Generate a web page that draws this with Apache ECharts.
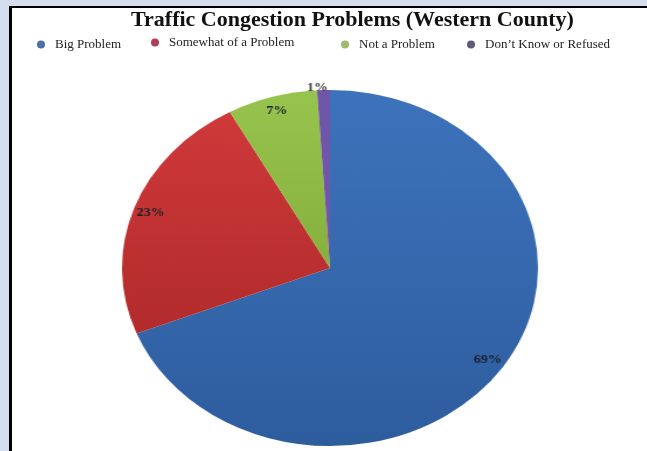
<!DOCTYPE html>
<html>
<head>
<meta charset="utf-8">
<script src="https://cdn.jsdelivr.net/npm/echarts@6/dist/echarts.min.js"></script>
<style>
  html, body { margin: 0; padding: 0; }
  body { width: 647px; height: 451px; background: #d4deef; position: relative; overflow: hidden; }
  .panel { position: absolute; left: 9px; top: 6px; right: 0; bottom: 0; background: #fff;
           border-left: 3px solid #000; border-top: 2px solid #000; }
  #top { position: absolute; left: 0; top: 0; width: 647px; height: 451px; }
  /* pie drawn round, then stretched to the ellipse of the reference */
  #pie { position: absolute; left: 130px; top: 68px; width: 400px; height: 400px;
         transform: scaleX(1.1685); transform-origin: 200px 200px; }
</style>
</head>
<body>
<div class="panel"></div>
<div id="top"></div>
<div id="pie"></div>
<script>
// data
const categories = ['Big Problem', 'Somewhat of a Problem', 'Not a Problem', 'Don\u2019t Know or Refused'];
const values = [69, 23, 7, 1];
const sliceColors = [
  new echarts.graphic.LinearGradient(0, 0, 0, 1, [{offset: 0, color: '#3d73bc'}, {offset: 1, color: '#2e5d9e'}]),
  new echarts.graphic.LinearGradient(0, 0, 0, 1, [{offset: 0, color: '#cf393a'}, {offset: 1, color: '#b22b2c'}]),
  new echarts.graphic.LinearGradient(0, 0, 0, 1, [{offset: 0, color: '#97c44e'}, {offset: 1, color: '#86b03c'}]),
  '#7056a8'
];
const legendColors = ['#4d6fa8', '#b03c55', '#9cba6a', '#5d5a7c'];

const serif = '"Liberation Serif", "DejaVu Serif", serif';

const pieData = categories.map((name, i) => ({
  name: name,
  value: values[i],
  itemStyle: { color: sliceColors[i] }
}));

// top part: title + legends
const topChart = echarts.init(document.getElementById('top'), null, { renderer: 'canvas' });
const legendLeft = [37, 151, 341, 467];
const legendTop = [38, 36, 38, 38];
topChart.setOption({
  animation: false,
  title: {
    text: 'Traffic Congestion Problems (Western County)',
    left: 131,
    top: 9,
    padding: 0,
    textStyle: { fontFamily: serif, fontWeight: 'bold', fontSize: 22, color: '#111' }
  },
  legend: categories.map((name, i) => ({
    data: [{ name: name, itemStyle: { color: legendColors[i] } }],
    left: legendLeft[i],
    top: legendTop[i],
    padding: 0,
    icon: 'circle',
    itemWidth: 8,
    itemHeight: 8,
    selectedMode: false,
    textStyle: { fontFamily: serif, fontSize: 13, color: '#222', padding: [0, 0, 0, 5] }
  })),
  series: [{
    // same data, not drawn here; only feeds the legends
    type: 'pie',
    radius: [0, 0],
    silent: true,
    label: { show: false },
    data: pieData
  }]
});

// pie
const pieChart = echarts.init(document.getElementById('pie'));
const R = 178;
pieChart.setOption({
  animation: false,
  series: [
    {
      type: 'pie',
      center: [200, 200],
      radius: [0, R],
      startAngle: 90,
      clockwise: true,
      silent: true,
      label: { show: false },
      labelLine: { show: false },
      data: pieData
    },
    {
      // ring only to put the labels near the rim
      type: 'pie',
      center: [200, 200],
      radius: [R * 0.8, R],
      startAngle: 90,
      clockwise: true,
      silent: true,
      itemStyle: { color: 'rgba(0,0,0,0)' },
      label: {
        show: true,
        position: 'inside',
        formatter: '{c}%',
        fontFamily: serif,
        fontWeight: 'bold',
        fontSize: 12,
        color: '#1a2030'
      },
      labelLine: { show: false },
      labelLayout: function (params) {
        return params.dataIndex === 3 ? { dx: 9 } : {};
      },
      data: categories.map((name, i) => {
        const d = { name: name, value: values[i] };
        if (i === 3) {
          d.label = { position: 'outside', color: '#3a3a3a' };
          d.labelLine = { show: false, length: 2, length2: 0 };
        }
        return d;
      })
    }
  ]
});
</script>
</body>
</html>
